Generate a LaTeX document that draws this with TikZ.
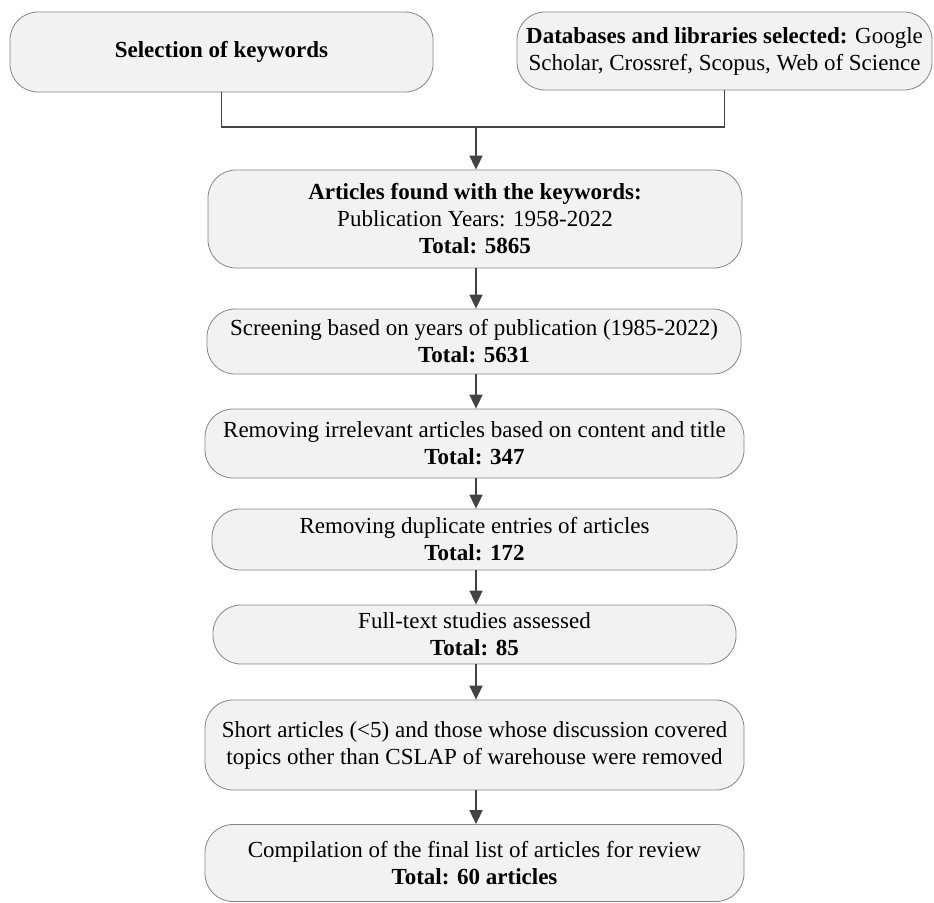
\documentclass[tikz,border=0pt]{standalone}
\usepackage{fontspec}
\setmainfont{Liberation Serif}
\usetikzlibrary{arrows.meta}
\definecolor{boxfill}{HTML}{F2F2F2}
\definecolor{boxline}{HTML}{858585}
\definecolor{conn}{HTML}{444444}
\tikzset{
  flowbox/.style={draw=boxline, line width=0.8pt, fill=boxfill, rounded corners=28pt,
    align=center, inner sep=0pt, font=\fontsize{23}{27}\selectfont},
  link/.style={draw=conn, line width=1.7pt},
  arrowlink/.style={link, -{Triangle[length=14pt,width=13pt]}}
}
\begin{document}
\begin{tikzpicture}[x=1pt,y=-1pt]
\useasboundingbox (0,0) rectangle (934,902);
\node[flowbox, minimum width=423pt, minimum height=80pt] (b1) at (221.5,52) {\textbf{Selection of keywords}};
\node[flowbox, minimum width=415pt, minimum height=78pt] (b2) at (724.5,51) {\textbf{Databases and libraries selected:} Google\\Scholar, Crossref, Scopus, Web of Science};
\node[flowbox, minimum width=534pt, minimum height=98pt] (b3) at (475,219) {\textbf{Articles found with the keywords:}\\Publication Years: 1958-2022\\\textbf{Total: 5865}};
\node[flowbox, minimum width=534pt, minimum height=65pt] (b4) at (474,341.5) {Screening based on years of publication (1985-2022)\\\textbf{Total: 5631}};
\node[flowbox, minimum width=539pt, minimum height=69pt] (b5) at (474.5,443.5) {Removing irrelevant articles based on content and title\\\textbf{Total: 347}};
\node[flowbox, minimum width=525pt, minimum height=61pt] (b6) at (474.5,539.5) {Removing duplicate entries of articles\\\textbf{Total: 172}};
\node[flowbox, minimum width=523pt, minimum height=59pt] (b7) at (474.5,634.5) {Full-text studies assessed\\\textbf{Total: 85}};
\node[flowbox, minimum width=539pt, minimum height=90pt] (b8) at (474.5,745) {Short articles (<5) and those whose discussion covered\\topics other than CSLAP of warehouse were removed};
\node[flowbox, minimum width=539pt, minimum height=77pt] (b9) at (474.5,863) {Compilation of the final list of articles for review\\\textbf{Total: 60 articles}};
\coordinate (j) at (476,127);
\draw[link] (b1.south) -- (b1.south |- j) -- (b2.south |- j) -- (b2.south);
\draw[arrowlink] (j) -- (j |- b3.north);
\draw[arrowlink] (b3.south -| j) -- (j |- b4.north);
\draw[arrowlink] (b4.south -| j) -- (j |- b5.north);
\draw[arrowlink] (b5.south -| j) -- (j |- b6.north);
\draw[arrowlink] (b6.south -| j) -- (j |- b7.north);
\draw[arrowlink] (b7.south -| j) -- (j |- b8.north);
\draw[arrowlink] (b8.south -| j) -- (j |- b9.north);
\end{tikzpicture}
\end{document}
